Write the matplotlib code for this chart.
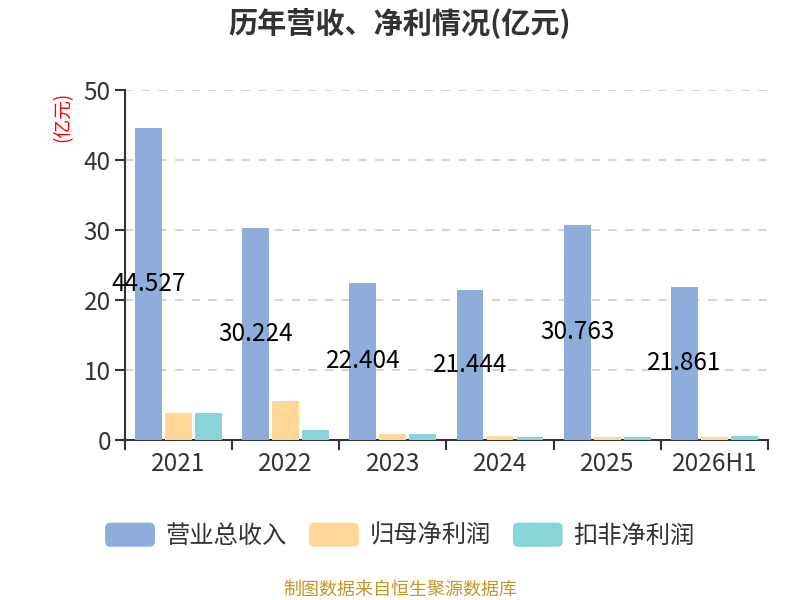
import numpy as np
import matplotlib.pyplot as plt
from matplotlib.patches import Patch, FancyBboxPatch
from matplotlib.legend_handler import HandlerPatch

plt.rcParams["font.family"] = ["Noto Sans CJK SC", "DejaVu Sans"]

years = ["2021", "2022", "2023", "2024", "2025", "2026H1"]
revenue = [44.527, 30.224, 22.404, 21.444, 30.763, 21.861]
net_profit = [3.76, 5.57, 0.90, 0.52, 0.38, 0.43]
deducted_profit = [3.76, 1.38, 0.86, 0.43, 0.33, 0.57]

series_names = ["营业总收入", "归母净利润", "扣非净利润"]
colors = ["#8EADDB", "#FFD899", "#87D5D9"]


class RoundHandler(HandlerPatch):
    def create_artists(self, legend, orig_handle, xdescent, ydescent,
                       width, height, fontsize, trans):
        p = FancyBboxPatch((-xdescent, -ydescent), width, height,
                           boxstyle="round,pad=0,rounding_size=4",
                           facecolor=orig_handle.get_facecolor(),
                           edgecolor="none", transform=trans)
        return [p]


fig = plt.figure(figsize=(8, 6), dpi=100)
ax = fig.add_axes([0.156, 0.267, 0.804, 0.583])

x = np.arange(len(years))
width = 0.25
step = 0.28
for k, (vals, col) in enumerate(zip([revenue, net_profit, deducted_profit], colors)):
    ax.bar(x + (k - 1) * step, vals, width=width, color=col, zorder=3)

for i, v in enumerate(revenue):
    ax.text(x[i] - step, v / 2, f"{v:.3f}", ha="center", va="center",
            fontsize=17.5, color="#000000", zorder=4)

ax.set_xlim(-0.5, len(years) - 0.5)
ax.set_ylim(0, 50)
ax.set_yticks([0, 10, 20, 30, 40, 50])
ax.tick_params(axis="y", labelsize=17.5, colors="#333333", length=7, width=1.5, pad=3)
for y in [10, 20, 30, 40, 50]:
    ax.axhline(y, color="#CCCCCC", linestyle=(0, (5, 5)), linewidth=1.2, zorder=1)

ax.set_xticks(x)
ax.set_xticklabels(years, fontsize=17.5, color="#333333")
ax.tick_params(axis="x", length=0, pad=8)
ax.set_xticks(np.arange(-0.5, len(years)), minor=True)
ax.tick_params(axis="x", which="minor", length=7, width=1.5, color="#333333")

for side in ["top", "right"]:
    ax.spines[side].set_visible(False)
for side in ["left", "bottom"]:
    ax.spines[side].set_color("#333333")
    ax.spines[side].set_linewidth(1.5)

fig.text(0.078, 0.805, "(亿元)", rotation=90, color="red", fontsize=13.5,
         ha="center", va="center")

fig.text(0.5, 0.962, "历年营收、净利情况(亿元)", ha="center", va="center",
         fontsize=21, fontweight="bold", color="#333333")

handles = [Patch(facecolor=c, edgecolor="none", label=n) for c, n in zip(colors, series_names)]
fig.legend(handles=handles, loc="center", bbox_to_anchor=(0.5, 0.107), ncol=3,
           frameon=False, fontsize=17.5, handlelength=2.05, handleheight=1.15,
           handletextpad=0.45, columnspacing=0.9, labelcolor="#333333",
           handler_map={Patch: RoundHandler()})

fig.text(0.5, 0.017, "制图数据来自恒生聚源数据库", ha="center", va="center",
         fontsize=13, color="#C8952B")

fig.savefig("out.png", dpi=100)
